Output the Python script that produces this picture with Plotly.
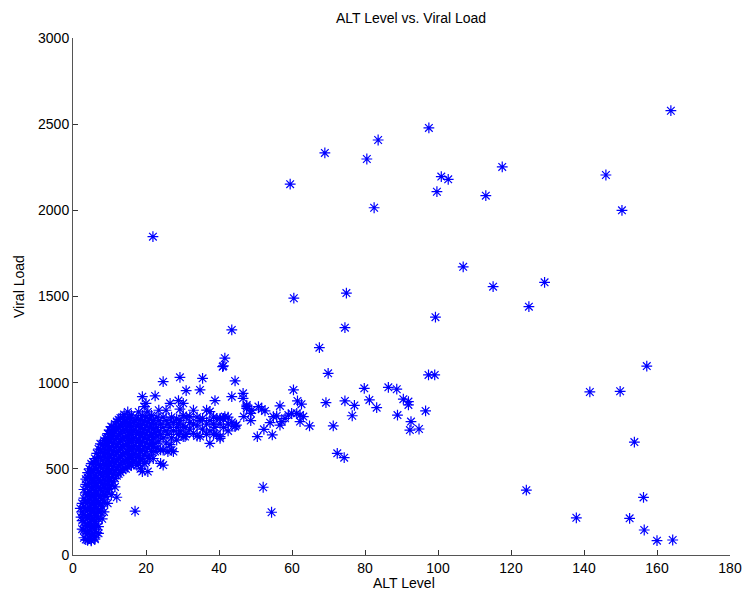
import plotly.graph_objects as go

# Dense cluster (low ALT)
alt_dense = (
    [2.5]*4 + [3.0]*7 + [3.5]*9 + [4.0]*10 + [4.5]*10 + [5.0]*11 + [5.5]*10 +
    [6.0]*11 + [6.5]*11 + [7.0]*11 + [7.5]*10 + [8.0]*9 + [8.5]*9 + [9.0]*9 +
    [9.5]*9 + [10.0]*9 + [10.5]*9 + [11.0]*8 + [11.5]*8 + [12.0]*9 + [12.5]*8 +
    [13.0]*8 + [13.5]*8 + [14.0]*8 + [14.5]*7 + [15.0]*8 + [15.5]*7 + [16.0]*7 +
    [16.5]*6 + [17.0]*7 + [17.5]*7 + [18.0]*7 + [18.5]*7 + [19.0]*8 + [19.5]*7 +
    [20.0]*7 + [20.5]*7 + [21.0]*5 + [21.5]*5 + [22.0]*5 + [22.5]*5 + [23.0]*4 +
    [23.5]*4 + [24.0]*4 + [24.7]*6 + [25.5]*4 + [26.0]*3 + [26.6]*3 + [27.0]*3 +
    [27.5]*3 + [28.4]*3 + [28.9]*3 + [29.3]*4 + [30.2]*4 + [30.7]*2 + [31.0]*3 +
    [32.0]*3 + [33.0]*3 + [34.0]*3 + [34.8]*3 + [35.5]*3 + [36.6]*3 + [37.5]*4 +
    [38.5]*3 + [38.9]*2 + [39.4]*2 + [40.3]*4 + [41.2]*3 + [41.6]*2 + [42.5]*3 +
    [43.5]*3 + [44.4]*3 + [44.8]*1 +
    [7.0, 8.0, 8.5, 9.5, 10.5, 11.5, 2.2, 2.0, 6.0, 5.0]
)
load_dense = [
    150, 200, 250, 300,
    100, 145, 190, 235, 280, 330, 380,
    90, 135, 180, 225, 270, 315, 360, 410, 440,
    85, 125, 170, 215, 260, 305, 350, 400, 450, 478,
    95, 140, 185, 230, 275, 320, 365, 415, 460, 500,
    87, 115, 160, 205, 250, 295, 340, 390, 435, 480, 530,
    125, 170, 215, 260, 305, 350, 400, 445, 490, 540,
    100, 150, 195, 240, 285, 330, 375, 420, 465, 510, 560,
    130, 180, 225, 270, 315, 360, 405, 450, 500, 545, 590,
    126, 210, 255, 300, 345, 390, 435, 480, 525, 570, 615,
    250, 295, 340, 385, 430, 475, 520, 565, 610, 645,
    280, 325, 370, 415, 460, 505, 550, 595, 640,
    305, 350, 395, 440, 485, 530, 575, 620, 665,
    340, 385, 430, 475, 520, 565, 610, 655, 677,
    365, 410, 455, 500, 545, 590, 635, 680, 705,
    385, 430, 475, 520, 565, 610, 655, 700, 725,
    405, 450, 495, 540, 585, 630, 675, 720, 745,
    425, 470, 515, 560, 605, 650, 695, 740,
    445, 490, 535, 580, 625, 670, 715, 760,
    335, 460, 505, 550, 595, 640, 685, 730, 774,
    470, 515, 560, 605, 650, 695, 740, 785,
    480, 525, 570, 615, 660, 705, 750, 795,
    495, 540, 585, 630, 675, 720, 765, 800,
    505, 550, 595, 640, 685, 730, 775, 815,
    500, 545, 590, 635, 680, 725, 770,
    510, 555, 600, 645, 690, 745, 790, 830,
    530, 575, 620, 665, 710, 755, 800,
    520, 565, 610, 655, 700, 745, 812,
    540, 585, 630, 675, 720, 770,
    255, 545, 590, 635, 680, 725, 780,
    520, 565, 610, 655, 700, 750, 795,
    530, 575, 620, 665, 710, 760, 830,
    500, 560, 605, 650, 695, 740, 785,
    484, 560, 610, 660, 710, 760, 810, 919,
    532, 580, 630, 680, 730, 780, 861,
    540, 600, 650, 700, 750, 800, 880,
    484, 570, 620, 670, 720, 770, 830,
    560, 640, 690, 740, 790,
    600, 650, 700, 760, 810,
    629, 560, 680, 730, 780,
    648, 600, 710, 760, 923,
    620, 690, 740, 800,
    660, 720, 780, 840,
    532, 610, 700, 760,
    609, 522, 680, 740, 800, 1006,
    650, 720, 780, 840,
    600, 700, 760,
    880, 640, 740,
    609, 680, 800,
    600, 720, 770,
    667, 740, 790,
    896, 700, 760,
    846, 1031, 720, 780,
    880, 687, 750, 810,
    687, 740,
    954, 700, 800,
    803, 730, 770,
    706, 760, 840,
    690, 750, 800,
    958, 687, 780,
    1025, 793, 730,
    841, 760, 700,
    648, 832, 780, 720,
    700, 760, 800,
    896, 740,
    793, 700,
    687, 677, 793, 760,
    793, 1097, 740,
    803, 1142,
    760, 720, 800,
    919, 1306, 770,
    1010, 749, 745,
    754,
    165, 210, 250, 300, 350, 395, 220, 270, 92, 82,
]

# Middle band (ALT 45-100)
alt_band = [46.6, 46.6, 47.6, 47.6, 47.6, 48.7, 46.8, 48.7, 49.0, 50.8, 51.7, 52.6,
            50.5, 52.3, 54.6, 54.0, 54.9, 55.8, 56.7, 57.2, 58.1, 59.0, 59.9, 61.3,
            62.2, 63.1, 62.2, 64.8, 56.7, 60.4, 61.5, 62.6, 69.3, 71.3, 74.5, 77.1,
            76.5, 79.8, 81.2, 83.2, 86.4, 88.7, 90.5, 91.9, 91.9, 88.9, 92.6, 92.3,
            94.8, 96.6, 72.4, 74.3, 52.1, 54.4, 97.4, 99.1, 69.9, 67.5, 74.5, 60.5,
            99.3, 74.9, 41.0]
load_band = [938, 909, 861, 870, 851, 822, 803, 780, 841, 861, 846, 836,
             687, 729, 697, 768, 803, 807, 754, 774, 793, 812, 822, 822,
             812, 803, 774, 749, 865, 958, 894, 875, 884, 749, 894, 868,
             808, 967, 900, 855, 973, 962, 904, 890, 871, 812, 774, 725,
             731, 836, 590, 565, 393, 248, 1045, 1045, 1054, 1203, 1319, 1490,
             1380, 1520, 1093]

# Outliers
alt_out = [163.8, 97.5, 83.6, 69.0, 80.5, 117.6, 146.0, 100.9, 102.8, 59.5, 99.7,
           113.1, 82.5, 150.4, 21.9, 106.9, 129.2, 115.1, 124.9, 157.2, 141.6,
           149.9, 153.8, 124.2, 137.9, 152.5, 156.3, 156.5, 160.0, 164.3]
load_out = [2578, 2478, 2408, 2333, 2298, 2252, 2205, 2196, 2180, 2152, 2108,
            2085, 2015, 2000, 1847, 1672, 1582, 1557, 1441, 1096, 946,
            950, 655, 376, 216, 213, 334, 145, 83, 87]

alt = alt_dense + alt_band + alt_out
load = load_dense + load_band + load_out

x_ticks = [0, 20, 40, 60, 80, 100, 120, 140, 160, 180]
y_ticks = [0, 500, 1000, 1500, 2000, 2500, 3000]

W, H = 745, 594
L, R, T, B = 73, 730, 38, 555

fig = go.Figure(go.Scatter(
    x=alt, y=load, mode="markers",
    marker=dict(symbol="asterisk-open", size=9, color="#0000ff",
                line=dict(color="#0000ff", width=1.2)),
    showlegend=False,
))

FONT = "Liberation Sans, Arial, sans-serif"
axis_font = dict(family=FONT, size=14, color="#000")
fig.update_layout(
    width=W, height=H,
    margin=dict(l=L, r=W - R, t=T, b=H - B, autoexpand=False),
    paper_bgcolor="white", plot_bgcolor="white",
    font=axis_font,
    title=dict(text="ALT Level vs. Viral Load", x=411 / W, xanchor="center",
               y=1 - 18 / H, yanchor="middle", yref="container",
               font=dict(family=FONT, size=14, color="#000")),
    xaxis=dict(range=[0, 180], tickvals=x_ticks, ticks="inside", ticklen=5,
               tickcolor="#333", showline=True, linecolor="#555", linewidth=1,
               showgrid=False, zeroline=False, mirror=False, automargin=False,
               tickfont=axis_font),
    yaxis=dict(range=[0, 3000], tickvals=y_ticks, ticks="inside", ticklen=5,
               tickcolor="#333", showline=True, linecolor="#555", linewidth=1,
               showgrid=False, zeroline=False, mirror=False, automargin=False,
               tickfont=axis_font),
    annotations=[
        dict(text="ALT Level", xref="paper", yref="paper",
             x=(404 - L) / (R - L), y=(B - 583) / (B - T),
             xanchor="center", yanchor="middle", showarrow=False, font=axis_font),
        dict(text="Viral Load", xref="paper", yref="paper",
             x=(19 - L) / (R - L), y=(B - 287) / (B - T), textangle=-90,
             xanchor="center", yanchor="middle", showarrow=False, font=axis_font),
    ],
)

fig.write_html("out.html")
